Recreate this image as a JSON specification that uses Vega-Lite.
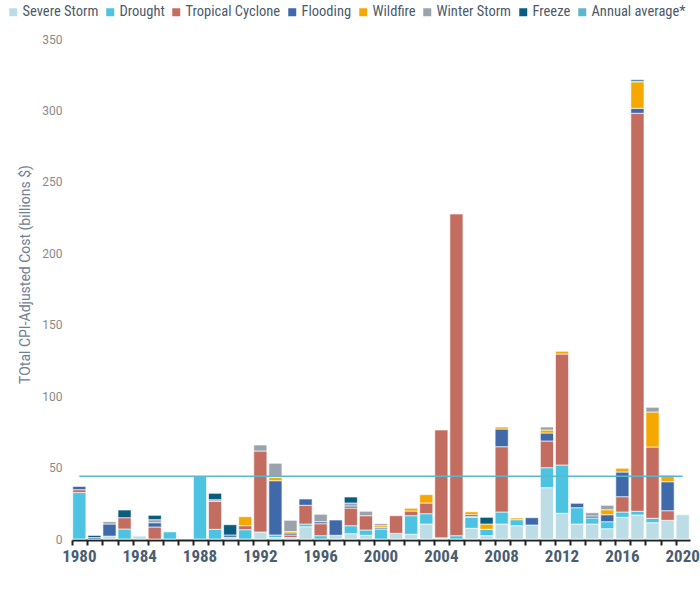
{
  "$schema": "https://vega.github.io/schema/vega-lite/v6.json",
  "width": 618,
  "height": 500,
  "autosize": "none",
  "padding": {"left": 72, "top": 39, "right": 10, "bottom": 50},
  "config": {
    "view": {"stroke": null},
    "font": "Roboto"
  },
  "datasets": {
    "costs": [
      {"year": 1980, "type": "Drought", "cost": 32.5},
      {"year": 1980, "type": "Tropical Cyclone", "cost": 2},
      {"year": 1980, "type": "Flooding", "cost": 2.3},
      {"year": 1981, "type": "Flooding", "cost": 1},
      {"year": 1981, "type": "Freeze", "cost": 1.5},
      {"year": 1982, "type": "Severe Storm", "cost": 2},
      {"year": 1982, "type": "Flooding", "cost": 8.5},
      {"year": 1982, "type": "Winter Storm", "cost": 1.6},
      {"year": 1983, "type": "Drought", "cost": 7},
      {"year": 1983, "type": "Tropical Cyclone", "cost": 7.9},
      {"year": 1983, "type": "Freeze", "cost": 5.4},
      {"year": 1984, "type": "Severe Storm", "cost": 2},
      {"year": 1985, "type": "Tropical Cyclone", "cost": 8.4},
      {"year": 1985, "type": "Flooding", "cost": 3},
      {"year": 1985, "type": "Winter Storm", "cost": 2.1},
      {"year": 1985, "type": "Freeze", "cost": 3.1},
      {"year": 1986, "type": "Drought", "cost": 5},
      {"year": 1988, "type": "Drought", "cost": 43.9},
      {"year": 1989, "type": "Drought", "cost": 6.8},
      {"year": 1989, "type": "Tropical Cyclone", "cost": 19.6},
      {"year": 1989, "type": "Winter Storm", "cost": 1.1},
      {"year": 1989, "type": "Freeze", "cost": 4.5},
      {"year": 1990, "type": "Severe Storm", "cost": 1.2},
      {"year": 1990, "type": "Flooding", "cost": 1.6},
      {"year": 1990, "type": "Freeze", "cost": 7.2},
      {"year": 1991, "type": "Drought", "cost": 6.5},
      {"year": 1991, "type": "Tropical Cyclone", "cost": 2.8},
      {"year": 1991, "type": "Wildfire", "cost": 6.3},
      {"year": 1992, "type": "Severe Storm", "cost": 4.9},
      {"year": 1992, "type": "Tropical Cyclone", "cost": 56.7},
      {"year": 1992, "type": "Winter Storm", "cost": 4.2},
      {"year": 1993, "type": "Severe Storm", "cost": 1},
      {"year": 1993, "type": "Drought", "cost": 1.8},
      {"year": 1993, "type": "Flooding", "cost": 38},
      {"year": 1993, "type": "Wildfire", "cost": 2.4},
      {"year": 1993, "type": "Winter Storm", "cost": 9.8},
      {"year": 1994, "type": "Severe Storm", "cost": 1},
      {"year": 1994, "type": "Tropical Cyclone", "cost": 1.8},
      {"year": 1994, "type": "Flooding", "cost": 1.4},
      {"year": 1994, "type": "Wildfire", "cost": 1},
      {"year": 1994, "type": "Winter Storm", "cost": 7.9},
      {"year": 1995, "type": "Severe Storm", "cost": 8.6},
      {"year": 1995, "type": "Drought", "cost": 1.9},
      {"year": 1995, "type": "Tropical Cyclone", "cost": 13.1},
      {"year": 1995, "type": "Flooding", "cost": 4.4},
      {"year": 1996, "type": "Drought", "cost": 2.3},
      {"year": 1996, "type": "Tropical Cyclone", "cost": 8.4},
      {"year": 1996, "type": "Flooding", "cost": 1.4},
      {"year": 1996, "type": "Winter Storm", "cost": 5.2},
      {"year": 1997, "type": "Severe Storm", "cost": 2.6},
      {"year": 1997, "type": "Flooding", "cost": 10.7},
      {"year": 1998, "type": "Severe Storm", "cost": 3.7},
      {"year": 1998, "type": "Drought", "cost": 5.6},
      {"year": 1998, "type": "Tropical Cyclone", "cost": 12.4},
      {"year": 1998, "type": "Flooding", "cost": 1.4},
      {"year": 1998, "type": "Winter Storm", "cost": 2.1},
      {"year": 1998, "type": "Freeze", "cost": 4.2},
      {"year": 1999, "type": "Severe Storm", "cost": 2.6},
      {"year": 1999, "type": "Drought", "cost": 3.7},
      {"year": 1999, "type": "Tropical Cyclone", "cost": 10},
      {"year": 1999, "type": "Winter Storm", "cost": 3.1},
      {"year": 2000, "type": "Drought", "cost": 7},
      {"year": 2000, "type": "Flooding", "cost": 0.9},
      {"year": 2000, "type": "Wildfire", "cost": 1.4},
      {"year": 2000, "type": "Winter Storm", "cost": 1.4},
      {"year": 2001, "type": "Severe Storm", "cost": 4},
      {"year": 2001, "type": "Tropical Cyclone", "cost": 12.3},
      {"year": 2002, "type": "Severe Storm", "cost": 3.3},
      {"year": 2002, "type": "Drought", "cost": 13},
      {"year": 2002, "type": "Tropical Cyclone", "cost": 3.3},
      {"year": 2002, "type": "Wildfire", "cost": 1.9},
      {"year": 2003, "type": "Severe Storm", "cost": 10.5},
      {"year": 2003, "type": "Drought", "cost": 7.2},
      {"year": 2003, "type": "Tropical Cyclone", "cost": 7.5},
      {"year": 2003, "type": "Wildfire", "cost": 5.8},
      {"year": 2004, "type": "Severe Storm", "cost": 0.8},
      {"year": 2004, "type": "Tropical Cyclone", "cost": 75.5},
      {"year": 2005, "type": "Drought", "cost": 2.3},
      {"year": 2005, "type": "Tropical Cyclone", "cost": 225.2},
      {"year": 2006, "type": "Severe Storm", "cost": 7.5},
      {"year": 2006, "type": "Drought", "cost": 7.7},
      {"year": 2006, "type": "Tropical Cyclone", "cost": 0.5},
      {"year": 2006, "type": "Flooding", "cost": 1.3},
      {"year": 2006, "type": "Wildfire", "cost": 2},
      {"year": 2007, "type": "Severe Storm", "cost": 2.3},
      {"year": 2007, "type": "Drought", "cost": 4.5},
      {"year": 2007, "type": "Wildfire", "cost": 3.7},
      {"year": 2007, "type": "Freeze", "cost": 4.7},
      {"year": 2008, "type": "Severe Storm", "cost": 10.5},
      {"year": 2008, "type": "Drought", "cost": 8.4},
      {"year": 2008, "type": "Tropical Cyclone", "cost": 45.7},
      {"year": 2008, "type": "Flooding", "cost": 12.4},
      {"year": 2008, "type": "Wildfire", "cost": 1.4},
      {"year": 2009, "type": "Severe Storm", "cost": 9.3},
      {"year": 2009, "type": "Drought", "cost": 4.2},
      {"year": 2009, "type": "Wildfire", "cost": 1.2},
      {"year": 2010, "type": "Severe Storm", "cost": 9.8},
      {"year": 2010, "type": "Flooding", "cost": 5.1},
      {"year": 2011, "type": "Severe Storm", "cost": 35.9},
      {"year": 2011, "type": "Drought", "cost": 14},
      {"year": 2011, "type": "Tropical Cyclone", "cost": 18.7},
      {"year": 2011, "type": "Flooding", "cost": 5.6},
      {"year": 2011, "type": "Wildfire", "cost": 2.1},
      {"year": 2011, "type": "Winter Storm", "cost": 2.1},
      {"year": 2012, "type": "Severe Storm", "cost": 18},
      {"year": 2012, "type": "Drought", "cost": 33.8},
      {"year": 2012, "type": "Tropical Cyclone", "cost": 77.7},
      {"year": 2012, "type": "Wildfire", "cost": 1.9},
      {"year": 2013, "type": "Severe Storm", "cost": 10.5},
      {"year": 2013, "type": "Drought", "cost": 11.4},
      {"year": 2013, "type": "Flooding", "cost": 3.1},
      {"year": 2014, "type": "Severe Storm", "cost": 10.5},
      {"year": 2014, "type": "Drought", "cost": 4.2},
      {"year": 2014, "type": "Flooding", "cost": 1.4},
      {"year": 2014, "type": "Winter Storm", "cost": 2.3},
      {"year": 2015, "type": "Severe Storm", "cost": 7.2},
      {"year": 2015, "type": "Drought", "cost": 4.9},
      {"year": 2015, "type": "Flooding", "cost": 4.9},
      {"year": 2015, "type": "Wildfire", "cost": 3.5},
      {"year": 2015, "type": "Winter Storm", "cost": 3.1},
      {"year": 2016, "type": "Severe Storm", "cost": 15.2},
      {"year": 2016, "type": "Drought", "cost": 3.7},
      {"year": 2016, "type": "Tropical Cyclone", "cost": 10.7},
      {"year": 2016, "type": "Flooding", "cost": 17.3},
      {"year": 2016, "type": "Wildfire", "cost": 2.6},
      {"year": 2017, "type": "Severe Storm", "cost": 16.8},
      {"year": 2017, "type": "Drought", "cost": 2.6},
      {"year": 2017, "type": "Tropical Cyclone", "cost": 278.6},
      {"year": 2017, "type": "Flooding", "cost": 3.5},
      {"year": 2017, "type": "Wildfire", "cost": 18.5},
      {"year": 2017, "type": "Winter Storm", "cost": 0.5},
      {"year": 2017, "type": "Freeze", "cost": 1},
      {"year": 2018, "type": "Severe Storm", "cost": 11.4},
      {"year": 2018, "type": "Drought", "cost": 3.1},
      {"year": 2018, "type": "Tropical Cyclone", "cost": 49.9},
      {"year": 2018, "type": "Wildfire", "cost": 24.5},
      {"year": 2018, "type": "Winter Storm", "cost": 3.3},
      {"year": 2019, "type": "Severe Storm", "cost": 13.1},
      {"year": 2019, "type": "Tropical Cyclone", "cost": 6.7},
      {"year": 2019, "type": "Flooding", "cost": 20.3},
      {"year": 2019, "type": "Wildfire", "cost": 4},
      {"year": 2019, "type": "Winter Storm", "cost": 0.5},
      {"year": 2020, "type": "Severe Storm", "cost": 17}
    ],
    "average": [
      {"year": 1980, "cost": 44},
      {"year": 2020, "cost": 44}
    ]
  },
  "layer": [
    {
      "data": {"name": "costs"},
      "transform": [
        {"calculate": "indexof(['Severe Storm', 'Drought', 'Tropical Cyclone', 'Flooding', 'Wildfire', 'Winter Storm', 'Freeze'], datum.type)", "as": "stack_rank"}
      ],
      "mark": {"type": "bar", "stroke": "white", "strokeWidth": 0.8, "strokeOpacity": 0.8},
      "encoding": {
        "x": {
          "field": "year",
          "type": "ordinal",
          "scale": {
            "domain": [1980, 1981, 1982, 1983, 1984, 1985, 1986, 1987, 1988, 1989, 1990, 1991, 1992, 1993, 1994, 1995, 1996, 1997, 1998, 1999, 2000, 2001, 2002, 2003, 2004, 2005, 2006, 2007, 2008, 2009, 2010, 2011, 2012, 2013, 2014, 2015, 2016, 2017, 2018, 2019, 2020],
            "paddingInner": 0.13,
            "paddingOuter": 0.05
          },
          "axis": {
            "title": null,
            "offset": 1,
            "labelAngle": 0,
            "labelExpr": "datum.value % 4 == 0 ? datum.label : ''",
            "labelOverlap": false,
            "labelFont": "Liberation Sans Narrow, Roboto Condensed, Roboto",
            "labelFontSize": 17,
            "labelFontWeight": "bold",
            "labelColor": "#4b5d70",
            "labelPadding": 3,
            "bandPosition": 0,
            "tickColor": "#222222",
            "tickWidth": 2,
            "tickSize": 5,
            "domainColor": "#222222",
            "domainWidth": 2
          }
        },
        "y": {
          "field": "cost",
          "type": "quantitative",
          "aggregate": "sum",
          "stack": "zero",
          "scale": {"domain": [0, 350], "nice": false},
          "axis": {
            "title": "TOtal CPI-Adjusted Cost (billions $)",
            "titleFontSize": 14,
            "titleFontWeight": "normal",
            "titleColor": "#6f8092",
            "titlePadding": 9,
            "titleY": 235,
            "values": [0, 50, 100, 150, 200, 250, 300, 350],
            "labelFontSize": 12,
            "labelColor": "#8a8a8a",
            "labelPadding": 10,
            "domain": false,
            "ticks": false,
            "grid": false
          }
        },
        "order": {"field": "stack_rank", "type": "quantitative", "sort": "ascending"},
        "color": {
          "field": "type",
          "type": "nominal",
          "sort": ["Severe Storm", "Drought", "Tropical Cyclone", "Flooding", "Wildfire", "Winter Storm", "Freeze", "Annual average*"],
          "scale": {
            "domain": ["Severe Storm", "Drought", "Tropical Cyclone", "Flooding", "Wildfire", "Winter Storm", "Freeze", "Annual average*"],
            "range": ["#bcdde6", "#4cc3e0", "#c36c60", "#3f69a9", "#f4a800", "#9aa3ad", "#0b5d80", "#5bb8cc"]
          },
          "legend": {
            "title": null,
            "orient": "none",
            "direction": "horizontal",
            "legendX": -66,
            "legendY": -34,
            "symbolType": "square",
            "symbolSize": 90,
            "symbolOpacity": 1,
            "labelFont": "Liberation Sans Narrow, Roboto Condensed, Roboto",
            "labelFontSize": 14.5,
            "labelColor": "#4b5a69",
            "labelOffset": 2,
            "columnPadding": 3,
            "encode": {
              "symbols": {
                "update": {
                  "shape": {"signal": "datum.value == 'Annual average*' ? 'stroke' : 'square'"},
                  "stroke": {"signal": "scale('color', datum.value)"},
                  "strokeWidth": {"signal": "datum.value == 'Annual average*' ? 1.5 : 0"}
                }
              }
            }
          }
        }
      }
    },
    {
      "data": {"name": "average"},
      "mark": {"type": "line", "color": "#5bb8cc", "strokeWidth": 1.5},
      "encoding": {
        "x": {"field": "year", "type": "ordinal"},
        "y": {"field": "cost", "type": "quantitative"}
      }
    }
  ]
}
